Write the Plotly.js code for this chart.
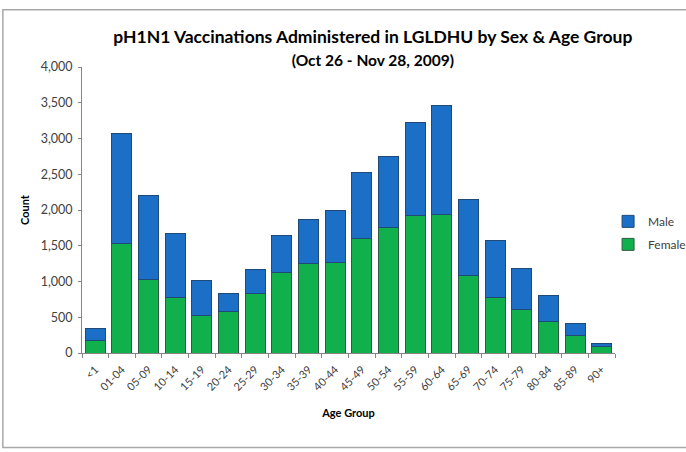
<!DOCTYPE html>
<html>
<head>
<meta charset="utf-8">
<script src="https://cdn.plot.ly/plotly-3.0.1.min.js"></script>
<style>
html,body{margin:0;padding:0;background:#fff;}
#chart{width:686px;height:452px;}
</style>
</head>
<body>
<div id="chart"></div>
<script>
const ageGroups = ["<1","01-04","05-09","10-14","15-19","20-24","25-29","30-34","35-39","40-44","45-49","50-54","55-59","60-64","65-69","70-74","75-79","80-84","85-89","90+"];
const female = [175,1525,1032,776,520,581,828,1130,1246,1270,1595,1762,1925,1939,1088,781,604,441,251,84];
const male   = [165,1539,1177,893,493,251,344,511,628,722,925,991,1298,1526,1061,790,582,363,158,46];

const FONT = "Lato, 'Open Sans', sans-serif";

const traces = [
  {type:"bar", name:"Female", legendgroup:"f", legendrank:2, x:ageGroups, y:female,
   marker:{color:"#10b04d", line:{color:"#2f5d44", width:1}}},
  {type:"bar", name:"Male", legendgroup:"m", legendrank:1, x:ageGroups, y:male,
   marker:{color:"#1b6fc7", line:{color:"#1f4a78", width:1}}}
];

const layout = {
  width:686, height:452,
  barmode:"stack", bargap:0.25,
  paper_bgcolor:"#fff", plot_bgcolor:"#fff",
  margin:{l:82, r:71, t:67, b:99, autoexpand:false},
  font:{family:FONT, color:"#000"},
  title:{text:"<b>pH1N1 Vaccinations Administered in LGLDHU by Sex & Age Group</b><br><b style='font-size:15.5px'>(Oct 26 - Nov 28, 2009)</b>",
         font:{size:17.5, family:FONT, color:"#000"},
         x:0.5435, xanchor:"center", y:0.905, yanchor:"top"},
  xaxis:{
    type:"category", automargin:false,
    tickangle:-45, tickfont:{family:FONT, size:11, color:"#404040"}, showgrid:false,
    showline:true, linecolor:"#868686", linewidth:1,
    ticks:"outside", tickson:"boundaries", ticklen:4, tickcolor:"#868686",
    ticklabelstandoff:5,
    title:{text:"<b>Age Group</b>", font:{size:11, family:FONT, color:"#000"}, standoff:17}
  },
  yaxis:{
    automargin:false,
    range:[0,4000], dtick:500, tickformat:",d", tickfont:{family:FONT, size:12.5, color:"#404040"},
    showgrid:false, zeroline:false,
    showline:true, linecolor:"#868686", linewidth:1,
    ticks:"outside", ticklen:3, tickcolor:"#868686",
    ticklabelstandoff:3,
    title:{text:"<b>Count</b>", font:{size:11, family:FONT, color:"#000"}, standoff:8}
  },
  legend:{x:0.987, y:0.42, xanchor:"left", yanchor:"middle", traceorder:"grouped",
          font:{size:12, family:FONT, color:"#404040"},
          itemwidth:30, tracegroupgap:4},
  shapes:[{type:"rect", xref:"paper", yref:"paper", x0:-0.1485, x1:1.3, y0:-0.33, y1:1.2,
           line:{color:"#a8a8a8", width:1.5}, fillcolor:"rgba(0,0,0,0)", layer:"below"}],
  showlegend:true
};

Plotly.newPlot("chart", traces, layout, {displayModeBar:false, staticPlot:true});
</script>
</body>
</html>
